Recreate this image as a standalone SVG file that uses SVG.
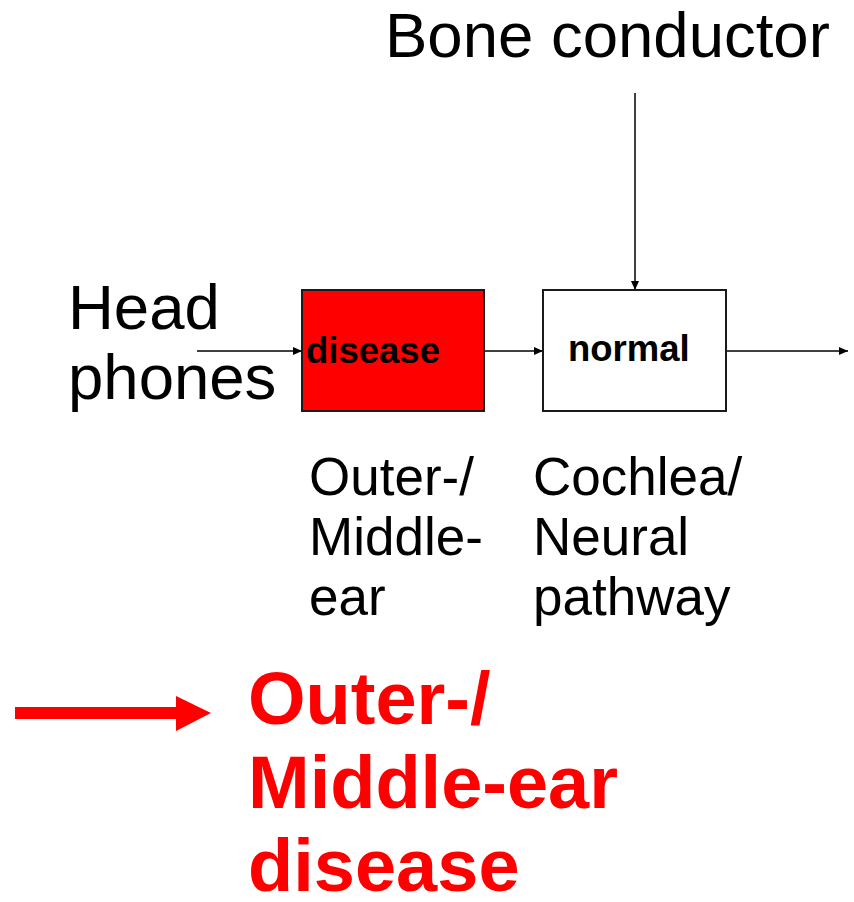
<svg xmlns="http://www.w3.org/2000/svg" width="854" height="902" viewBox="0 0 854 902">
<style>
.t{font-family:"Liberation Sans",Arial,sans-serif;fill:#000}
.big{font-size:63.5px}
.mid{font-size:53px}
.lbl{font-size:36.5px;font-weight:bold}
.red{font-family:"Liberation Sans",Arial,sans-serif;font-size:74px;font-weight:bold;fill:#ff0000}
.box{stroke:#1a1a1a;stroke-width:2}
.conn{stroke:#000;stroke-width:1.5;fill:none;marker-end:url(#ah)}
</style>
<defs>
<marker id="ah" markerWidth="9" markerHeight="8" refX="9" refY="4" orient="auto" markerUnits="userSpaceOnUse">
<path d="M0,0 L9,4 L0,8 Z" fill="#000"/>
</marker>
</defs>
<rect width="854" height="902" fill="#fff"/>
<g id="connectors">
<line class="conn" x1="197" y1="351" x2="302" y2="351"/>
<line class="conn" x1="484" y1="351" x2="543" y2="351"/>
<line class="conn" x1="726" y1="351" x2="848" y2="351"/>
<line class="conn" x1="635" y1="93" x2="635" y2="290"/>
</g>
<g id="bone">
<text class="t big" x="385" y="57">Bone conductor</text>
</g>
<g id="headphones">
<text class="t big" x="68" y="329">Head</text>
<text class="t big" x="68" y="399">phones</text>
</g>
<g id="disease">
<rect class="box" x="302" y="290" width="182" height="121" fill="#ff0000"/>
<text class="t lbl" x="306" y="363">disease</text>
</g>
<g id="normal">
<rect class="box" x="543" y="290" width="183" height="121" fill="#fff"/>
<text class="t lbl" x="568" y="361">normal</text>
</g>
<g id="outer-label">
<text class="t mid" x="309" y="495">Outer-/</text>
<text class="t mid" x="309" y="555">Middle-</text>
<text class="t mid" x="309" y="615">ear</text>
</g>
<g id="cochlea-label">
<text class="t mid" x="533" y="495">Cochlea/</text>
<text class="t mid" x="533" y="555">Neural</text>
<text class="t mid" x="533" y="615">pathway</text>
</g>
<g id="conclusion">
<rect x="15" y="707" width="162" height="12" fill="#ff0000"/>
<path d="M176,696 L211,713 L176,731 Z" fill="#ff0000"/>
<text class="red" x="248" y="724">Outer-/</text>
<text class="red" x="248" y="808">Middle-ear</text>
<text class="red" x="248" y="891">disease</text>
</g>
</svg>
